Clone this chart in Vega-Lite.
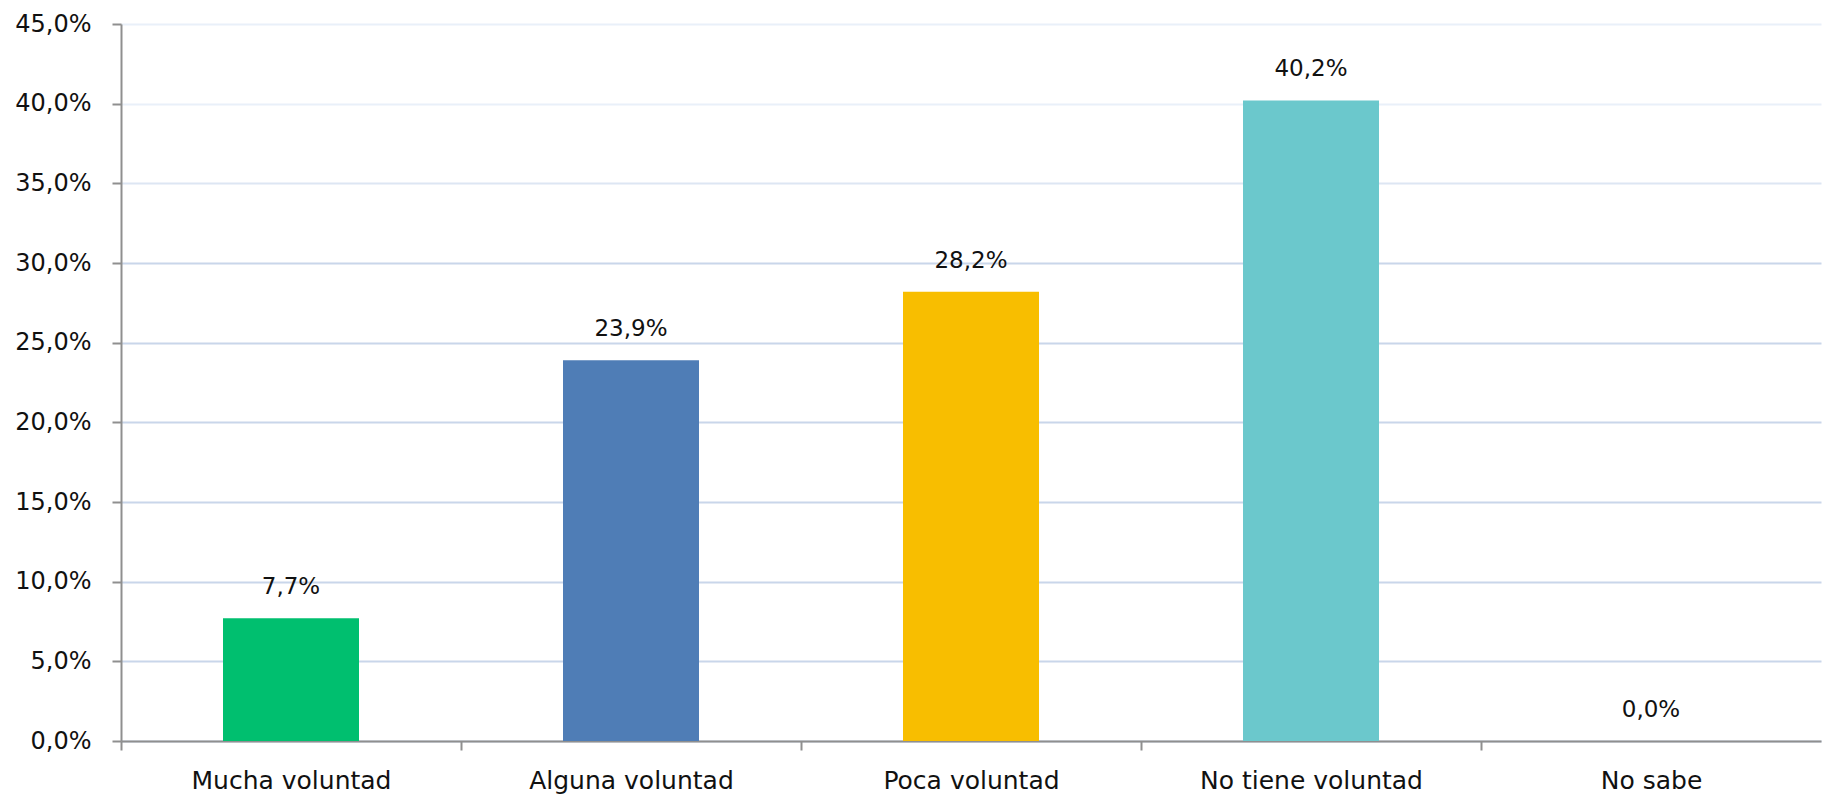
{
  "$schema": "https://vega.github.io/schema/vega-lite/v6.json",
  "autosize": "none",
  "padding": {"left": 121, "top": 24, "right": 4, "bottom": 56},
  "width": 1700,
  "height": 717,
  "data": {
    "values": [
      {"cat": "Mucha voluntad", "val": 0.077},
      {"cat": "Alguna voluntad", "val": 0.239},
      {"cat": "Poca voluntad", "val": 0.282},
      {"cat": "No tiene voluntad", "val": 0.402},
      {"cat": "No sabe", "val": 0.0}
    ]
  },
  "config": {
    "locale": {"number": {"decimal": ",", "thousands": ".", "grouping": [3], "currency": ["", " €"]}},
    "view": {"stroke": null},
    "font": "DejaVu Sans",
    "axis": {
      "labelFont": "DejaVu Sans",
      "labelFontSize": 24,
      "labelColor": "#111111",
      "labelLimit": 0,
      "domainColor": "#8f8f8f",
      "domainWidth": 2,
      "tickColor": "#8f8f8f",
      "tickWidth": 2,
      "tickSize": 9,
      "title": null
    }
  },
  "encoding": {
    "x": {
      "field": "cat",
      "type": "nominal",
      "sort": null,
      "scale": {"paddingInner": 0.6, "paddingOuter": 0.3},
      "axis": {
        "labelAngle": 0,
        "labelFontSize": 25,
        "labelPadding": 18,
        "tickOffset": -170,
        "labelOffset": 170,
        "grid": false
      }
    },
    "y": {
      "field": "val",
      "type": "quantitative",
      "scale": {"domain": [0, 0.45], "nice": false},
      "axis": {
        "values": [0, 0.05, 0.1, 0.15, 0.2, 0.25, 0.3, 0.35, 0.4, 0.45],
        "format": ".1%",
        "labelPadding": 21,
        "grid": true,
        "gridWidth": 2,
        "gridColor": {
          "condition": [
            {"test": "datum.value >= 0.395", "value": "#e9f0f9"},
            {"test": "datum.value >= 0.345", "value": "#dde6f3"}
          ],
          "value": "#c9d6ea"
        }
      }
    }
  },
  "layer": [
    {
      "mark": {"type": "bar"},
      "encoding": {
        "color": {
          "field": "cat",
          "type": "nominal",
          "sort": null,
          "legend": null,
          "scale": {
            "domain": ["Mucha voluntad", "Alguna voluntad", "Poca voluntad", "No tiene voluntad", "No sabe"],
            "range": ["#00bf6f", "#4f7db6", "#f8be00", "#6bc8cc", "#999999"]
          }
        }
      }
    },
    {
      "mark": {"type": "text", "baseline": "alphabetic", "dy": -24, "fontSize": 23, "font": "DejaVu Sans", "color": "#111111"},
      "encoding": {
        "text": {"field": "val", "type": "quantitative", "format": ".1%"}
      }
    }
  ]
}
